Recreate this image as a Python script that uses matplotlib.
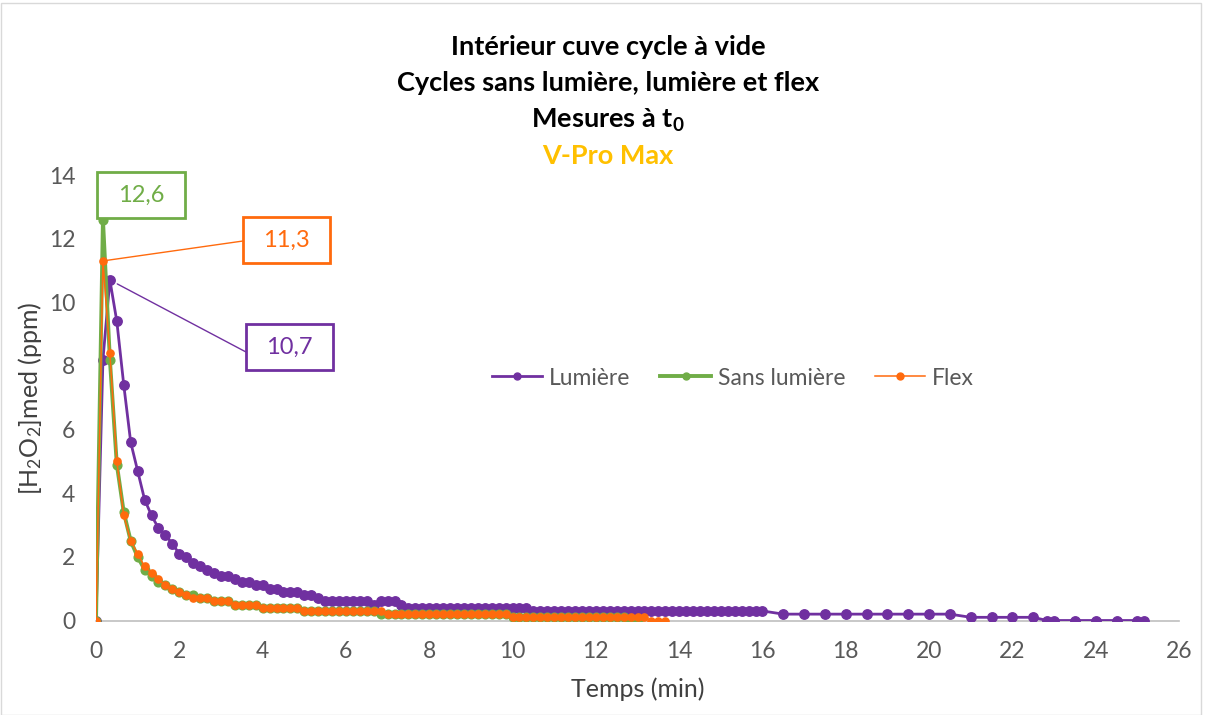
import numpy as np
import matplotlib
matplotlib.use("Agg")
import matplotlib.pyplot as plt
from matplotlib.patches import Rectangle

# ---------------- data ----------------
SAMPLE_MIN = 1 / 6  # one measurement every 10 s

lumiere_vals = [0, 8.2, 10.7, 9.4, 7.4, 5.6, 4.7, 3.8, 3.3, 2.9,
                2.7, 2.4, 2.1, 2.0, 1.8, 1.7, 1.6, 1.5, 1.4, 1.4,
                1.3, 1.2, 1.2, 1.1, 1.1, 1.0, 1.0, 0.9, 0.9, 0.9,
                0.8, 0.8, 0.7, 0.6, 0.6, 0.6, 0.6, 0.6, 0.6, 0.6,
                0.5, 0.6, 0.6, 0.6, 0.5, 0.4, 0.4, 0.4, 0.4, 0.4,
                0.4, 0.4, 0.4, 0.4, 0.4, 0.4, 0.4, 0.4, 0.4, 0.4,
                0.4, 0.4, 0.4, 0.3, 0.3, 0.3, 0.3, 0.3, 0.3, 0.3,
                0.3, 0.3, 0.3, 0.3, 0.3, 0.3, 0.3, 0.3, 0.3, 0.3,
                0.3, 0.3, 0.3, 0.3, 0.3, 0.3, 0.3, 0.3, 0.3, 0.3,
                0.3, 0.3, 0.3, 0.3, 0.3, 0.3, 0.3]
lumiere_tail_t = [16.5, 17, 17.5, 18, 18.5, 19, 19.5, 20, 20.5,
                  21, 21.5, 22, 22.5, 22.83, 23, 23.5, 24, 24.5, 25, 25.17]
lumiere_tail_v = [0.2, 0.2, 0.2, 0.2, 0.2, 0.2, 0.2, 0.2, 0.2,
                  0.1, 0.1, 0.1, 0.1, 0.0, 0.0, 0.0, 0.0, 0.0, 0.0, 0.0]

sans_lumiere_vals = [0, 12.6, 8.2, 4.9, 3.4, 2.5, 2.0, 1.6, 1.4, 1.2,
                     1.1, 1.0, 0.9, 0.8, 0.8, 0.7, 0.7, 0.6, 0.6, 0.6,
                     0.5, 0.5, 0.5, 0.5, 0.4, 0.4, 0.4, 0.4, 0.4, 0.4,
                     0.3, 0.3, 0.3, 0.3, 0.3, 0.3, 0.3, 0.3, 0.3, 0.3,
                     0.3, 0.2, 0.2, 0.2, 0.2, 0.2, 0.2, 0.2, 0.2, 0.2,
                     0.2, 0.2, 0.2, 0.2, 0.2, 0.2, 0.2, 0.2, 0.2, 0.2,
                     0.1, 0.1, 0.1, 0.1, 0.1, 0.1, 0.1, 0.1, 0.1, 0.1,
                     0.1, 0.1, 0.1, 0.1, 0.1, 0.1, 0.1, 0.0, 0.0]

flex_vals = [0, 11.3, 8.4, 5.0, 3.3, 2.5, 2.1, 1.7, 1.5, 1.3,
             1.1, 1.0, 0.9, 0.8, 0.7, 0.7, 0.7, 0.6, 0.6, 0.6,
             0.5, 0.5, 0.5, 0.5, 0.4, 0.4, 0.4, 0.4, 0.4, 0.4,
             0.3, 0.3, 0.3, 0.3, 0.3, 0.3, 0.3, 0.3, 0.3, 0.3,
             0.3, 0.3, 0.2, 0.2, 0.2, 0.2, 0.2, 0.2, 0.2, 0.2,
             0.2, 0.2, 0.2, 0.2, 0.2, 0.2, 0.2, 0.2, 0.2, 0.2,
             0.1, 0.1, 0.1, 0.1, 0.1, 0.1, 0.1, 0.1, 0.1, 0.1,
             0.1, 0.1, 0.1, 0.1, 0.1, 0.1, 0.1, 0.1, 0.1, 0.1,
             0.0, 0.0, 0.0]

series_names = ["Lumière", "Sans lumière", "Flex"]
x_ticks = [0, 2, 4, 6, 8, 10, 12, 14, 16, 18, 20, 22, 24, 26]
y_ticks = [0, 2, 4, 6, 8, 10, 12, 14]
title_lines = ["Intérieur cuve cycle à vide",
               "Cycles sans lumière, lumière et flex"]

# time axes
lum_t = list(np.arange(len(lumiere_vals)) * SAMPLE_MIN) + lumiere_tail_t
lum_v = lumiere_vals + lumiere_tail_v
sans_t = np.arange(len(sans_lumiere_vals)) * SAMPLE_MIN
flex_t = np.arange(len(flex_vals)) * SAMPLE_MIN

# ---------------- style ----------------
plt.rcParams['font.family'] = ['Lato', 'DejaVu Sans']
plt.rcParams['mathtext.fontset'] = 'custom'
plt.rcParams['mathtext.rm'] = 'Lato'
plt.rcParams['mathtext.it'] = 'Lato'
plt.rcParams['mathtext.bf'] = 'Lato:bold'

PURPLE = '#7030A0'
GREEN = '#70AD47'
ORANGE = '#FF6A0D'
GOLD = '#FFC000'
GREY = '#595959'

W, H = 1206, 715
fig = plt.figure(figsize=(W / 100, H / 100), dpi=100)
ax = fig.add_axes([96 / W, 1 - 620.5 / H, (1179 - 96) / W, (620.5 - 175) / H])

ax.plot(lum_t, lum_v, color=PURPLE, lw=2.0, marker='o', ms=6.8,
        label=series_names[0], zorder=3)
ax.plot(sans_t, sans_lumiere_vals, color=GREEN, lw=2.8, marker='o', ms=6.3,
        label=series_names[1], zorder=4)
ax.plot(flex_t, flex_vals, color=ORANGE, lw=1.1, marker='o', ms=5.2,
        label=series_names[2], zorder=5)

ax.set_xlim(0, 26)
ax.set_ylim(0, 14)
ax.set_xticks(x_ticks)
ax.set_yticks(y_ticks)
ax.tick_params(axis='both', labelsize=16.5, colors=GREY, length=0)
ax.tick_params(axis='y', pad=15)
ax.tick_params(axis='x', pad=15)
for s in ['top', 'right', 'left']:
    ax.spines[s].set_visible(False)
ax.spines['bottom'].set_color('#BFBFBF')
ax.spines['bottom'].set_linewidth(1.2)
ax.spines['bottom'].set_zorder(1)

ax.set_xlabel("Temps (min)", fontsize=18, color='#404040', labelpad=11)
ax.set_ylabel("[H$_\\mathrm{2}$O$_\\mathrm{2}$]med (ppm)", fontsize=18,
              color='#404040', labelpad=3)

leg = ax.legend(loc='center', bbox_to_anchor=((733 - 96) / (1179 - 96), (620.5 - 378) / (620.5 - 175)),
                ncol=3, frameon=False, fontsize=16.5, handlelength=2.2,
                columnspacing=1.3, handletextpad=0.3)
for t in leg.get_texts():
    t.set_color(GREY)
for h in leg.legend_handles:
    h.set_markersize(5)

# ---------------- title ----------------
cx = 608 / W
TFS = 19.5
fig.text(cx, 1 - 47 / H, title_lines[0], ha='center', va='center',
         fontsize=TFS, fontweight='bold', color='black')
fig.text(cx, 1 - 83 / H, title_lines[1], ha='center', va='center',
         fontsize=TFS, fontweight='bold', color='black')
fig.text(cx, 1 - 120 / H, "Mesures à $\\mathbf{t}_\\mathbf{0}$", ha='center', va='center',
         fontsize=TFS, fontweight='bold', color='black')
fig.text(cx, 1 - 156 / H, "V-Pro Max", ha='center', va='center',
         fontsize=TFS, fontweight='bold', color=GOLD)

# ---------------- data labels ----------------
def label_box(x0, y0, x1, y1, text, color):
    fig.patches.append(Rectangle((x0 / W, 1 - y1 / H), (x1 - x0) / W, (y1 - y0) / H,
                                 transform=fig.transFigure, fill=True,
                                 facecolor='white', edgecolor=color, lw=2, zorder=10))
    fig.text((x0 + x1) / 2 / W, 1 - (y0 + y1) / 2 / H, text, ha='center', va='center',
             fontsize=17, color=color, zorder=11)

peak_sans = int(np.argmax(sans_lumiere_vals))
peak_flex = int(np.argmax(flex_vals))
peak_lum = int(np.argmax(lumiere_vals))

label_box(97, 172, 185, 218, f"{sans_lumiere_vals[peak_sans]:.1f}".replace('.', ','), GREEN)
label_box(243, 217, 330, 263, f"{flex_vals[peak_flex]:.1f}".replace('.', ','), ORANGE)
label_box(246, 324, 333, 370, f"{lumiere_vals[peak_lum]:.1f}".replace('.', ','), PURPLE)

ax.annotate("", xy=(flex_t[peak_flex], flex_vals[peak_flex]),
            xytext=(243, H - 241), textcoords='figure pixels',
            arrowprops=dict(arrowstyle='-', color=ORANGE, lw=1.0, shrinkA=0, shrinkB=3))
ax.annotate("", xy=(lum_t[peak_lum], lumiere_vals[peak_lum]),
            xytext=(246, H - 352), textcoords='figure pixels',
            arrowprops=dict(arrowstyle='-', color=PURPLE, lw=1.0, shrinkA=0, shrinkB=6))

# chart border
fig.patches.append(Rectangle((0.5 / W, 0.5 / H), (W - 6) / W, (H - 3) / H,
                             transform=fig.transFigure, fill=False,
                             edgecolor='#D9D9D9', lw=1))

fig.savefig("out.png", dpi=100)
